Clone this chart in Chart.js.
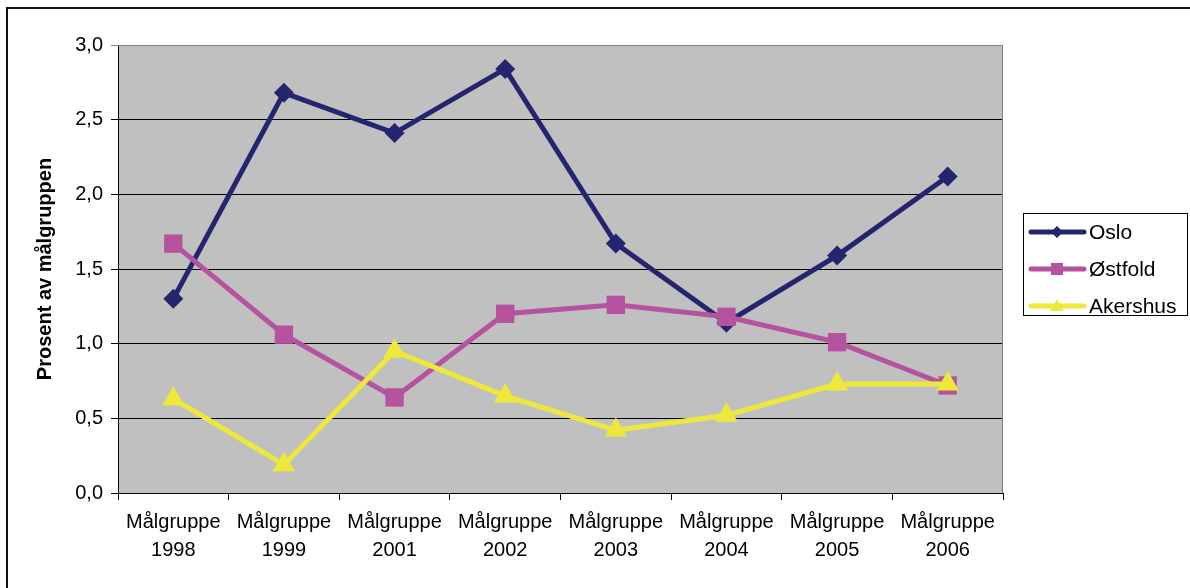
<!DOCTYPE html>
<html>
<head>
<meta charset="utf-8">
<script src="https://cdn.jsdelivr.net/npm/chart.js@4/dist/chart.umd.min.js"></script>
<style>
  html, body { margin: 0; padding: 0; background: #fff; }
  #wrap { width: 1190px; height: 588px; position: relative; }
</style>
</head>
<body>
<div id="wrap"><canvas id="chart" width="1190" height="588"></canvas></div>
<script>
// ============ 数据 ============
const categories = [
    ['Målgruppe', '1998'], ['Målgruppe', '1999'], ['Målgruppe', '2001'], ['Målgruppe', '2002'],
    ['Målgruppe', '2003'], ['Målgruppe', '2004'], ['Målgruppe', '2005'], ['Målgruppe', '2006']
];
const osloValues     = [1.30, 2.68, 2.41, 2.84, 1.67, 1.14, 1.59, 2.12];
const ostfoldValues  = [1.67, 1.06, 0.64, 1.20, 1.26, 1.18, 1.01, 0.72];
const akershusValues = [0.63, 0.19, 0.95, 0.65, 0.42, 0.52, 0.73, 0.73];
const seriesNames = ['Oslo', 'Østfold', 'Akershus'];
const yTitle = 'Prosent av målgruppen';

const COLORS = { oslo: '#25256f', ostfold: '#b653a0', akershus: '#eee83a' };
const FONT = 'Arial, "Liberation Sans", sans-serif';

// 绘图区背景 + 外框（只有上边和左边可见）
const framePlugin = {
    id: 'frame',
    beforeDraw(chart) {
        const { ctx, chartArea: a } = chart;
        ctx.save();
        ctx.fillStyle = '#fff';
        ctx.fillRect(0, 0, chart.width, chart.height);
        ctx.fillStyle = '#c0c0c0';
        ctx.fillRect(a.left, a.top, a.right - a.left, a.bottom - a.top);
        ctx.fillStyle = '#111';
        ctx.fillRect(6, 7, chart.width - 6, 2);
        ctx.fillRect(6, 7, 2, chart.height - 7);
        ctx.restore();
    },
    beforeDatasetsDraw(chart) {
        const { ctx, chartArea: a } = chart;
        ctx.save();
        ctx.strokeStyle = '#808080';
        ctx.lineWidth = 1;
        ctx.beginPath();
        ctx.moveTo(a.left, a.top + 0.5);
        ctx.lineTo(a.right - 0.5, a.top + 0.5);
        ctx.lineTo(a.right - 0.5, a.bottom);
        ctx.stroke();
        ctx.restore();
    }
};

// 图例（带边框）
const legendBoxPlugin = {
    id: 'legendBox',
    afterDraw(chart) {
        const { ctx } = chart;
        const x0 = 1023, y0 = 213, w = 164, h = 102;
        ctx.save();
        ctx.fillStyle = '#fff';
        ctx.fillRect(x0, y0, w, h);
        ctx.strokeStyle = '#000';
        ctx.lineWidth = 1;
        ctx.strokeRect(x0 + 0.5, y0 + 0.5, w, h);
        chart.data.datasets.forEach((ds, i) => {
            const y = y0 + 19 + i * 37;
            ctx.strokeStyle = ds.borderColor;
            ctx.lineWidth = 5;
            ctx.lineCap = 'round';
            ctx.beginPath();
            ctx.moveTo(1031, y);
            ctx.lineTo(1084, y);
            ctx.stroke();
            ctx.fillStyle = ds.borderColor;
            const s = ds.pointStyle;
            ctx.beginPath();
            if (s === 'rectRot') {
                ctx.moveTo(1057, y - 6); ctx.lineTo(1063, y); ctx.lineTo(1057, y + 6); ctx.lineTo(1051, y);
            } else if (s === 'rect') {
                ctx.rect(1051, y - 6, 12, 12);
            } else {
                ctx.moveTo(1057, y - 7); ctx.lineTo(1064, y + 5); ctx.lineTo(1050, y + 5);
            }
            ctx.closePath();
            ctx.fill();
            ctx.fillStyle = '#000';
            ctx.font = '21px ' + FONT;
            ctx.textBaseline = 'middle';
            ctx.fillText(ds.label, 1089, y + 1);
        });
        ctx.restore();
    }
};

function mkSet(label, data, color, style, radius, order) {
    return {
        label, data, order,
        borderColor: color,
        backgroundColor: color,
        borderWidth: 5,
        pointStyle: style,
        pointRadius: radius,
        pointHoverRadius: radius,
        pointBorderWidth: 0,
        tension: 0,
        fill: false
    };
}

new Chart(document.getElementById('chart'), {
    type: 'line',
    data: {
        labels: categories,
        datasets: [
            mkSet(seriesNames[0], osloValues, COLORS.oslo, 'rectRot', 10, 2),
            mkSet(seriesNames[1], ostfoldValues, COLORS.ostfold, 'rect', 13, 1),
            mkSet(seriesNames[2], akershusValues, COLORS.akershus, 'triangle', 13, 0)
        ]
    },
    options: {
        responsive: false,
        animation: false,
        events: [],
        layout: { padding: { top: 45, right: 187, left: 0, bottom: 0 } },
        plugins: { legend: { display: false }, tooltip: { enabled: false } },
        scales: {
            x: {
                offset: true,
                grid: { offset: true, drawOnChartArea: false, tickLength: 7, color: '#000' },
                border: { color: '#000', width: 1 },
                ticks: { color: '#000', font: { family: FONT, size: 20, lineHeight: 1.4 }, padding: 8, maxRotation: 0, autoSkip: false },
                afterFit: s => { s.height = 95; }
            },
            y: {
                min: 0, max: 3,
                ticks: {
                    stepSize: 0.5, color: '#000', padding: 8,
                    font: { family: FONT, size: 20 },
                    callback: v => v.toFixed(1).replace('.', ',')
                },
                grid: {
                    tickLength: 7,
                    color: c => (c.tick && c.tick.value === 3 ? '#808080' : '#000')
                },
                border: { color: '#000', width: 1 },
                title: {
                    display: true, text: yTitle, color: '#000',
                    font: { family: FONT, size: 20, weight: 'bold' },
                    padding: { top: 33, bottom: 0 }
                },
                afterFit: s => { s.width = 118; }
            }
        }
    },
    plugins: [framePlugin, legendBoxPlugin]
});
</script>
</body>
</html>
